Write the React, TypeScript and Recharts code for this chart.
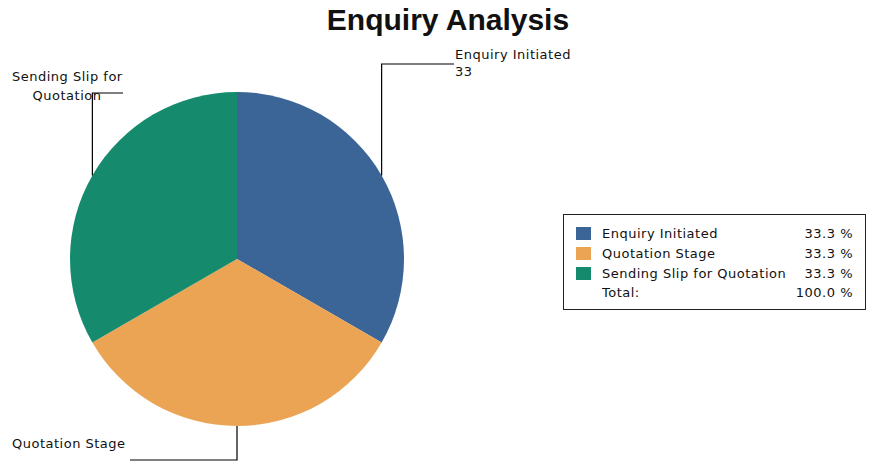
import { Cell, Legend, Pie, PieChart } from 'recharts'

const stages = ['Enquiry Initiated', 'Quotation Stage', 'Sending Slip for Quotation']
const counts = [33, 33, 33]
const colors = ['#3b6597', '#eba453', '#168a6d']

const data = stages.map((name, i) => ({ name, value: counts[i] }))
const total = counts.reduce((s, v) => s + v, 0)

const font = '"DejaVu Sans", sans-serif'
const RAD = Math.PI / 180

// leader line layout per slice: elbow y, end x, text lines
const labelLayout = [
  { elbowY: 64, endX: 454, lines: [{ t: 'Enquiry Initiated', x: 455, y: 59, a: 'start' }, { t: '33', x: 455, y: 76, a: 'start' }] },
  { elbowY: 460, endX: 130, lines: [{ t: 'Quotation Stage', x: 12, y: 448, a: 'start' }] },
  { elbowY: 93, endX: 123, lines: [{ t: 'Sending Slip for', x: 12, y: 81, a: 'start' }, { t: 'Quotation', x: 67, y: 100, a: 'middle' }] },
]

function SliceLabel(props: any) {
  const { cx, cy, midAngle, outerRadius, index } = props
  const x0 = cx + outerRadius * Math.cos(-midAngle * RAD)
  const y0 = cy + outerRadius * Math.sin(-midAngle * RAD)
  const l = labelLayout[index]
  return (
    <g>
      <polyline
        points={`${x0},${y0} ${x0},${l.elbowY} ${l.endX},${l.elbowY}`}
        fill="none"
        stroke="#000"
        strokeWidth={1.2}
      />
      {l.lines.map((ln) => (
        <text
          key={ln.t}
          x={ln.x}
          y={ln.y}
          textAnchor={ln.a}
          fontFamily={font}
          fontSize={13}
          letterSpacing={0.5}
          fill="#111"
        >
          {ln.t}
        </text>
      ))}
    </g>
  )
}

function LegendBox() {
  const pct = (v: number) => ((v / total) * 100).toFixed(1) + ' %'
  const row = { display: 'flex', alignItems: 'center', height: 19.7 } as const
  return (
    <div
      style={{
        border: '1.5px solid #222',
        width: 303,
        height: 96,
        padding: '9px 12px 0 12px',
        boxSizing: 'border-box',
        fontFamily: font,
        fontSize: 13,
        letterSpacing: 0.5,
        color: '#111',
        background: '#fff',
      }}
    >
      {data.map((d, i) => (
        <div key={d.name} style={row}>
          <span style={{ width: 15, height: 13, background: colors[i], marginRight: 11 }} />
          <span>{d.name}</span>
          <span style={{ marginLeft: 'auto' }}>{pct(d.value)}</span>
        </div>
      ))}
      <div style={row}>
        <span style={{ width: 15, marginRight: 11 }} />
        <span>Total:</span>
        <span style={{ marginLeft: 'auto' }}>100.0 %</span>
      </div>
    </div>
  )
}

export default function App() {
  return (
    <div
      style={{
        position: 'fixed',
        left: 0,
        top: 0,
        width: 869,
        height: 464,
        background: '#fff',
      }}
    >
      <div
        style={{
          position: 'absolute',
          left: 0,
          width: 869,
          paddingLeft: 27,
          boxSizing: 'border-box',
          top: 3,
          textAlign: 'center',
          fontFamily: '"Liberation Sans", Arial, sans-serif',
          fontWeight: 'bold',
          fontSize: 30,
          color: '#111',
        }}
      >
        Enquiry Analysis
      </div>
      <PieChart width={869} height={464} margin={{ top: 0, right: 0, bottom: 0, left: 0 }}>
        <Pie
          data={data}
          dataKey="value"
          nameKey="name"
          cx={237}
          cy={259}
          outerRadius={167}
          startAngle={90}
          endAngle={-270}
          stroke="none"
          label={SliceLabel}
          labelLine={false}
          isAnimationActive={false}
        >
          {data.map((d, i) => (
            <Cell key={d.name} fill={colors[i]} />
          ))}
        </Pie>
        <Legend content={<LegendBox />} wrapperStyle={{ left: 563, top: 214, width: 303 }} />
      </PieChart>
    </div>
  )
}
